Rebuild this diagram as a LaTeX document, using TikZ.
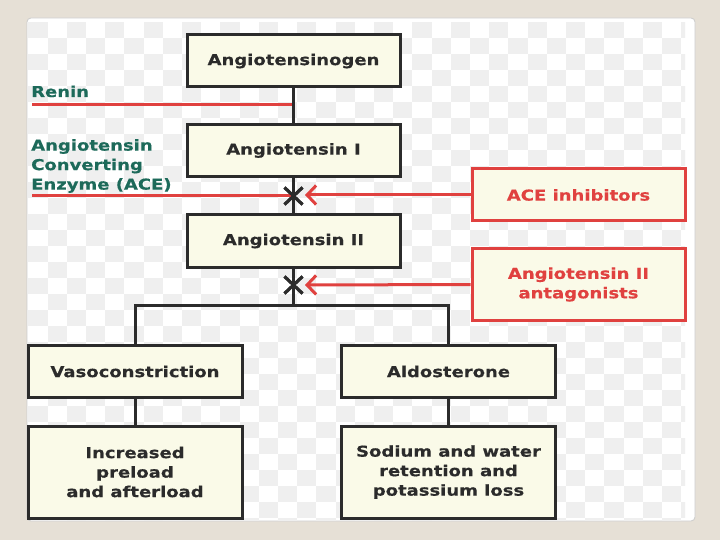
\documentclass[tikz,border=0pt]{standalone}
\usepackage{fontspec}
\setmainfont{DejaVu Sans}[FakeStretch=1.2, BoldFeatures={FakeBold=0.4}]
\usepackage{tikz}
\usetikzlibrary{arrows.meta, shapes.misc, positioning}
\definecolor{pagebg}{HTML}{E6E0D6}
\definecolor{checker}{HTML}{EFEFEF}
\definecolor{boxfill}{HTML}{FAFAE8}
\definecolor{boxline}{HTML}{2B2B2B}
\definecolor{drugred}{HTML}{E0413F}
\definecolor{enzteal}{HTML}{1D6A5A}
\newcommand{\boxfont}{\fontsize{15}{19.5}\selectfont\bfseries}
\tikzstyle{block} = [draw=boxline, fill=boxfill, line width=3pt, text=boxline, font=\boxfont,
                     align=center, minimum width=213pt, minimum height=52pt, inner sep=0]
\tikzstyle{drug} = [block, draw=drugred, text=drugred]
\tikzstyle{link} = [draw=boxline, line width=3pt]
\tikzstyle{redline} = [draw=drugred, line width=3pt]
\tikzstyle{enzyme} = [text=enzteal, font=\boxfont, align=left, inner sep=0]
\tikzstyle{block cross} = [cross out, draw=boxline, line width=3pt, minimum width=15pt,
                           minimum height=14pt, inner sep=0]

\begin{document}
\begin{tikzpicture}[x=1pt, y=-1pt]
	\useasboundingbox (0,0) rectangle (720,540);
	\fill[pagebg] (0,0) rectangle (720,540);
	\fill[white, rounded corners=4pt] (27,18) rectangle (695,521);
	\draw[black!20, line width=0.8pt, rounded corners=4pt] (27,18) rectangle (695,521);

	% checkered background
	\begin{scope}
		\clip (28,22) rectangle (685,520);
		\foreach \j in {0,...,31} {
			\foreach \i in {0,2,...,34} {
				\pgfmathtruncatemacro\k{\i+mod(\j,2)}
				\fill[checker] (28.4+19.2*\k, 22+16*\j) rectangle ++(19.2,16);
			}
		}
	\end{scope}

	% main cascade
	\node (Agtgen) [block] at (293.5, 61) {Angiotensinogen};
	\node (AgtI) [block] at (293.5, 150.5) {Angiotensin I};
	\node (AgtII) [block] at (293.5, 241) {Angiotensin II};

	% enzymes
	\node (Renin) [enzyme, anchor=base west] at (31, 97) {Renin};
	\coordinate (ReninIn) at (32, 105);
	\coordinate (ReninJoin) at (293.5, 105);
	\draw[redline] (ReninIn) -- (ReninJoin);

	\node (ACE) [enzyme, anchor=north west] at (31, 139) {Angiotensin\\Converting\\Enzyme (ACE)};
	\coordinate (ACEIn) at (32, 196);
	\node (XAce) [block cross] at (293.5, 196) {};
	\draw[redline] (ACEIn) -- (XAce.center);

	% drugs
	\node (AceInh) [drug] at (578.5, 195) {ACE inhibitors};
	\coordinate (AceTip) at (305, 195);
	\draw[redline, -{Straight Barb[length=9pt, width=19pt]}] (AceInh.west) -- (AceTip);

	\node (Antag) [drug, minimum height=72pt] at (578.5, 284.5) {Angiotensin II\\antagonists};
	\node (XAntag) [block cross] at (293.5, 285) {};
	\coordinate (AntagTip) at (305, 285);
	\draw[redline, -{Straight Barb[length=9pt, width=19pt]}] (Antag.west) -- (AntagTip);

	% links
	\draw[link] (Agtgen) -- (AgtI);
	\draw[link] (AgtI) -- (AgtII);
	\coordinate (Branch) at (293.5, 305);
	\draw[link] (AgtII) -- (Branch);

	% effects
	\node (Vaso) [block, minimum width=214pt] at (135, 371.5) {Vasoconstriction};
	\node (Aldo) [block, minimum width=214pt] at (448.5, 371.5) {Aldosterone};
	\draw[link] (Vaso.north) |- (Branch) -| (Aldo.north);

	\node (Load) [block, minimum width=214pt, minimum height=92pt] at (135, 472)
		{Increased\\preload\\and afterload};
	\node (Sodium) [block, minimum width=214pt, minimum height=92pt] at (448.5, 472)
		{Sodium and water\\retention and\\potassium loss};
	\draw[link] (Vaso) -- (Load);
	\draw[link] (Aldo) -- (Sodium);

	% crosses on top
	\node [block cross] at (XAce) {};
	\node [block cross] at (XAntag) {};
\end{tikzpicture}
\end{document}
